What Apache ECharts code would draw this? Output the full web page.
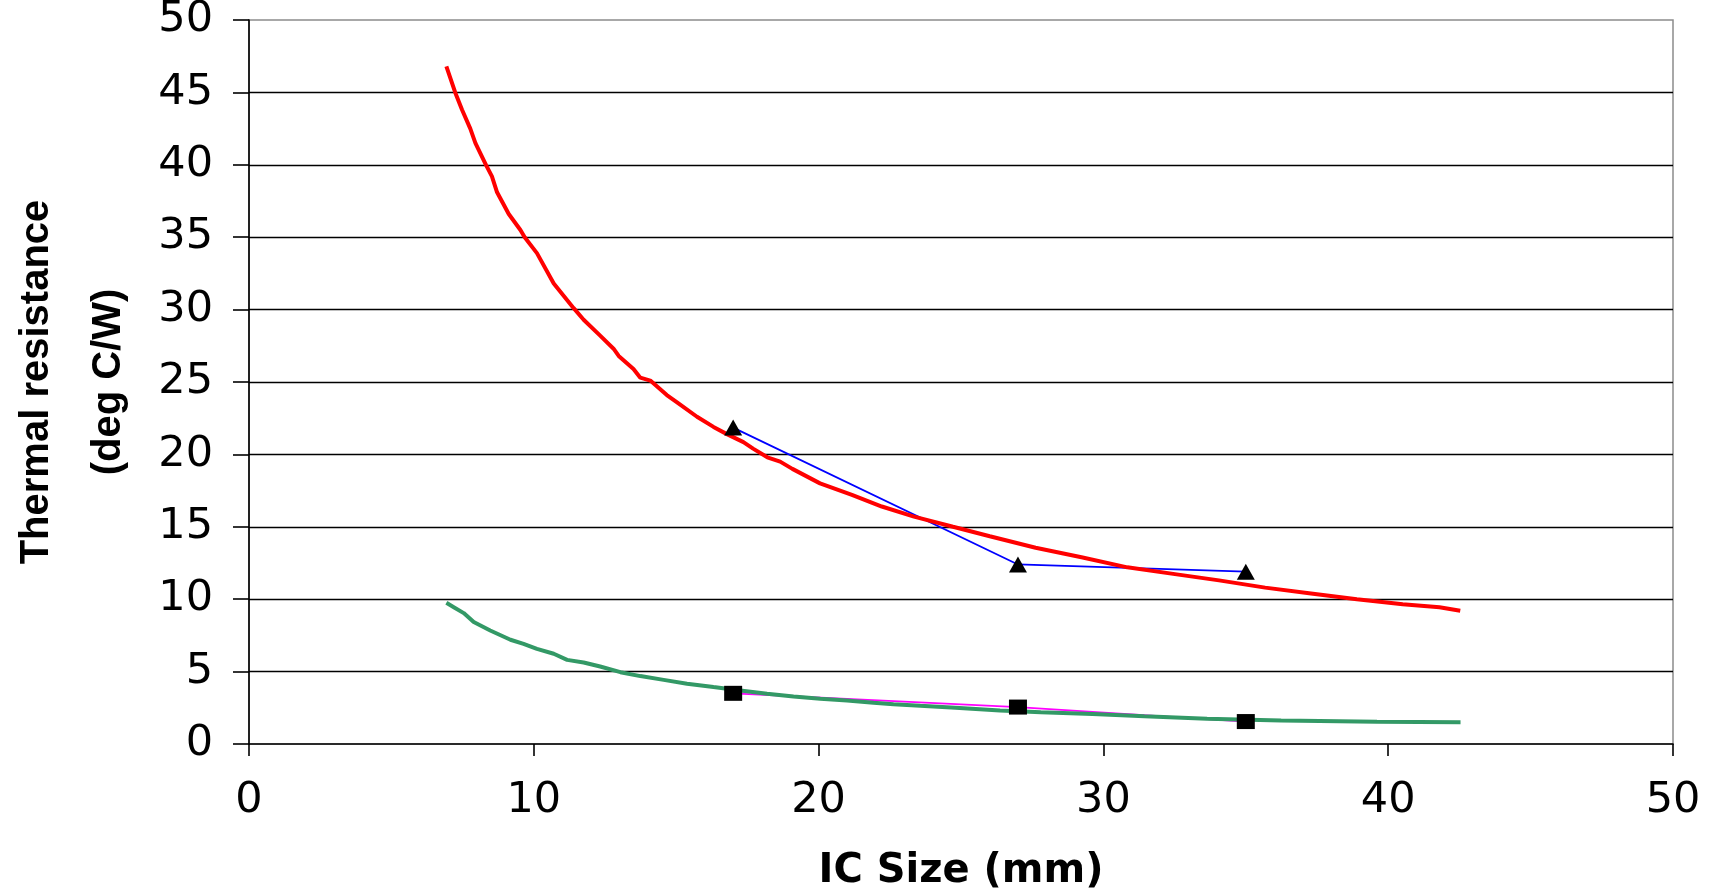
<!DOCTYPE html>
<html>
<head>
<meta charset="utf-8">
<script src="https://cdn.jsdelivr.net/npm/echarts@6/dist/echarts.min.js"></script>
<style>
html,body{margin:0;padding:0;background:#fff;}
#chart{width:1717px;height:891px;}
</style>
</head>
<body>
<div id="chart"></div>
<script>
// ---- data ----
const xTickLabels = ['0','10','20','30','40','50'];
const yTickLabels = ['0','5','10','15','20','25','30','35','40','45','50'];

// red curve: [IC size (mm), thermal resistance (deg C/W)]
const redCurve = [
  [6.93,46.8],[7.24,45.0],[7.48,43.8],[7.77,42.5],[7.95,41.5],[8.32,40.0],[8.53,39.2],[8.71,38.1],
  [9.12,36.6],[9.53,35.5],[9.68,35.0],[10.11,33.9],[10.7,31.8],[11.4,30.1],[11.75,29.3],[12.33,28.2],
  [12.8,27.3],[12.98,26.8],[13.5,25.9],[13.74,25.3],[14.09,25.1],[14.67,24.1],[15.03,23.6],[15.73,22.6],
  [16.31,21.9],[16.78,21.4],[17.36,20.85],[17.7,20.4],[18.2,19.8],[18.65,19.5],[19.08,19.0],[20.05,18.0],
  [21.17,17.2],[22.22,16.4],[23.35,15.7],[24.72,15.0],[26.01,14.35],[27.62,13.55],[29.23,12.9],[30.84,12.2],
  [32.45,11.75],[34.06,11.3],[35.68,10.8],[37.29,10.4],[38.9,10.0],[40.51,9.65],[41.8,9.45],[42.53,9.2]
];

// green curve
const greenCurve = [
  [6.93,9.75],[7.19,9.45],[7.54,9.04],[7.89,8.42],[8.47,7.84],[9.18,7.2],[9.64,6.92],[10.11,6.57],
  [10.7,6.23],[11.17,5.81],[11.75,5.63],[12.33,5.35],[13.04,4.96],[13.74,4.69],[14.56,4.43],[15.38,4.16],
  [16.31,3.93],[17.25,3.7],[18.19,3.47],[19.12,3.28],[20.06,3.12],[21.0,3.0],[21.93,2.85],[22.63,2.75],
  [23.57,2.64],[24.81,2.5],[26.37,2.31],[27.8,2.2],[29.62,2.08],[31.44,1.92],[33.64,1.74],[36.24,1.62],
  [39.61,1.53],[42.54,1.51]
];

// measured points (triangles, blue line)
const triangleX = [17, 27, 35];
const triangleY = [21.85, 12.4, 11.9];

// measured points (squares, magenta line)
const squareX = [17, 27, 35];
const squareY = [3.5, 2.55, 1.55];

// ---- chart ----
const pairs = (xs, ys) => xs.map((x, i) => [x, ys[i]]);
const triangles = pairs(triangleX, triangleY);
const squares = pairs(squareX, squareY);

const chart = echarts.init(document.getElementById('chart'), null, {renderer: 'canvas'});

const tickFont = {fontFamily: 'DejaVu Sans', fontSize: 43, color: '#000'};

chart.setOption({
  animation: false,
  backgroundColor: '#fff',
  grid: {
    left: 249, top: 20, right: 44, bottom: 147,
    show: true, borderColor: '#8c8c8c', borderWidth: 1.5, backgroundColor: 'transparent',
    containLabel: false, outerBoundsMode: 'none'
  },
  xAxis: {
    type: 'value', min: 0, max: 50, interval: 10,
    name: 'IC Size (mm)', nameLocation: 'middle', nameGap: 108,
    nameTextStyle: {fontFamily: 'DejaVu Sans', fontWeight: 'bold', fontSize: 40, color: '#000'},
    axisLine: {show: true, onZero: false, lineStyle: {color: '#000', width: 1.6}},
    axisTick: {show: true, inside: false, length: 12, lineStyle: {color: '#000', width: 1.6}},
    axisLabel: Object.assign({margin: 35, formatter: (v) => xTickLabels[Math.round(v / 10)]}, tickFont),
    splitLine: {show: false}
  },
  yAxis: {
    type: 'value', min: 0, max: 50, interval: 5,
    name: 'Thermal resistance\n(deg C/W)', nameLocation: 'middle', nameGap: 104, nameRotate: 90,
    nameTextStyle: {fontFamily: 'Liberation Sans', fontWeight: 'bold', fontSize: 40, lineHeight: 72, color: '#000', align: 'center'},
    axisLine: {show: true, onZero: false, lineStyle: {color: '#000', width: 1.6}},
    axisTick: {show: true, inside: false, length: 16, lineStyle: {color: '#000', width: 1.6}},
    axisLabel: Object.assign({margin: 36, formatter: (v) => yTickLabels[Math.round(v / 5)]}, tickFont),
    splitLine: {show: true, showMinLine: false, showMaxLine: false, lineStyle: {color: '#000', width: 1.4}}
  },
  series: [
    {
      name: 'measured A line', type: 'line', data: triangles, z: 2,
      showSymbol: false, symbol: 'none',
      lineStyle: {color: '#0000ff', width: 1.8}
    },
    {
      name: 'measured B line', type: 'line', data: squares, z: 2,
      showSymbol: false, symbol: 'none',
      lineStyle: {color: '#ff00ff', width: 1.8}
    },
    {
      name: 'model A', type: 'line', data: redCurve, z: 3,
      showSymbol: false, symbol: 'none', smooth: false,
      lineStyle: {color: '#ff0000', width: 4}
    },
    {
      name: 'model B', type: 'line', data: greenCurve, z: 3,
      showSymbol: false, symbol: 'none', smooth: false,
      lineStyle: {color: '#339966', width: 4}
    },
    {
      name: 'measured A', type: 'scatter', data: triangles, z: 4,
      symbol: 'triangle', symbolSize: [18, 16],
      itemStyle: {color: '#000', opacity: 1}
    },
    {
      name: 'measured B', type: 'scatter', data: squares, z: 4,
      symbol: 'rect', symbolSize: [18, 15],
      itemStyle: {color: '#000', opacity: 1}
    }
  ]
});
</script>
</body>
</html>
